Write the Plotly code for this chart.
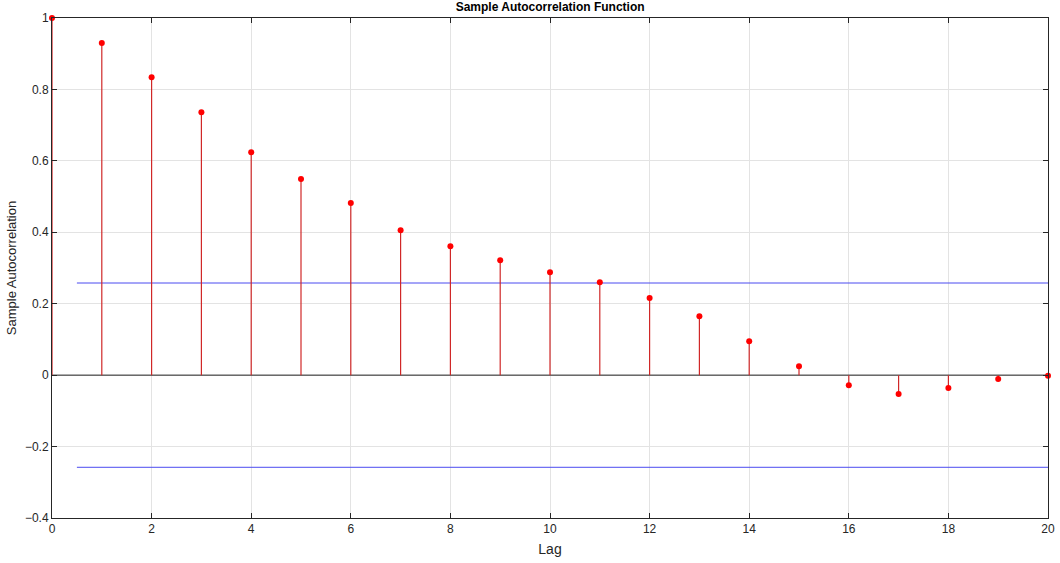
import plotly.graph_objects as go

lags = list(range(21))
acf = [1.0, 0.930, 0.834, 0.736, 0.624, 0.549, 0.482, 0.406, 0.361, 0.322,
       0.288, 0.260, 0.216, 0.165, 0.095, 0.025, -0.028, -0.053, -0.036,
       -0.011, -0.002]
bound = 0.258
bound_x = [0.5, 20]

stem_x, stem_y = [], []
for l, v in zip(lags, acf):
    stem_x += [l, l, None]
    stem_y += [0, v, None]

fig = go.Figure()
fig.add_trace(go.Scatter(x=bound_x, y=[bound, bound], mode="lines",
                         line=dict(color="#4a4af0", width=1), hoverinfo="skip"))
fig.add_trace(go.Scatter(x=bound_x, y=[-bound, -bound], mode="lines",
                         line=dict(color="#4a4af0", width=1), hoverinfo="skip"))
fig.add_trace(go.Scatter(x=[0, 20], y=[0, 0], mode="lines",
                         line=dict(color="#222222", width=1), hoverinfo="skip"))
fig.add_trace(go.Scatter(x=stem_x, y=stem_y, mode="lines",
                         line=dict(color="#d02828", width=1.2), hoverinfo="skip"))
fig.add_trace(go.Scatter(x=lags, y=acf, mode="markers", cliponaxis=False,
                         marker=dict(color="#ff0000", size=6)))

axis_common = dict(showline=True, linecolor="#262626", linewidth=1, mirror="ticks",
                   ticks="inside", ticklen=5, tickcolor="#262626", automargin=False,
                   showgrid=True, gridcolor="#e3e3e3", gridwidth=1, zeroline=False,
                   tickfont=dict(family="Liberation Sans, Arial", size=12, color="#262626"))

fig.update_layout(
    width=1060, height=563,
    margin=dict(l=52, r=12, t=18, b=45),
    plot_bgcolor="white", paper_bgcolor="white",
    showlegend=False,
    title=dict(text="<b>Sample Autocorrelation Function</b>", x=0.519, xanchor="center",
               y=0.988, yanchor="middle",
               font=dict(family="Liberation Sans, Arial", size=12, color="#000000")),
    xaxis=dict(range=[0, 20], dtick=2, title=dict(text="Lag", standoff=8,
               font=dict(family="Liberation Sans, Arial", size=14, color="#262626")),
               **axis_common),
    yaxis=dict(range=[-0.4, 1.0], dtick=0.2, tickformat="~g",
               title=dict(text="Sample Autocorrelation", standoff=5,
               font=dict(family="Liberation Sans, Arial", size=13, color="#262626")),
               **axis_common),
)
fig.write_html("out.html", config={"displayModeBar": False},
               post_script="document.body.style.margin='0px';document.body.style.overflow='hidden';")
